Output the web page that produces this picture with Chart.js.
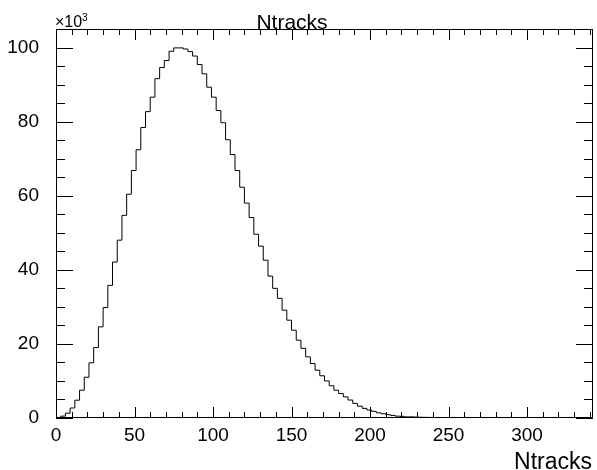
<!DOCTYPE html>
<html lang="en">
<head>
<meta charset="UTF-8">
<title>Ntracks</title>
<script src="https://cdn.jsdelivr.net/npm/chart.js"></script>
<style>
  body { margin: 0; background: #fff; }
  #wrap { width: 597px; height: 470px; }
</style>
</head>
<body>
<div id="wrap"><canvas id="hist" width="597" height="470"></canvas></div>
<script>
  // Ntracks histogram: bins of width 3 starting at 0, counts in units of 10^3
  const binWidth = 3;
  const binStart = 0;
  const counts = [
    0.1, 0.5, 1.3, 2.7, 4.8, 7.5, 11.0, 14.9, 19.0, 24.6,
    29.8, 35.8, 42.1, 48.0, 54.7, 60.4, 66.8, 72.4, 78.4, 82.7,
    86.6, 91.6, 94.6, 96.5, 99.0, 99.9, 99.9, 99.6, 98.9, 97.7,
    95.4, 92.9, 89.3, 86.6, 83.0, 79.7, 75.1, 71.1, 66.8, 62.3,
    58.0, 54.1, 49.6, 46.4, 42.6, 38.3, 35.0, 32.3, 29.1, 26.4,
    23.7, 21.0, 18.8, 16.5, 14.7, 12.9, 11.4, 10.0, 8.7, 7.5,
    6.6, 5.7, 4.85, 3.95, 3.2, 2.6, 2.15, 1.8, 1.4, 1.15,
    0.9, 0.7, 0.5, 0.45, 0.3, 0.3, 0.25, 0.2, 0.18, 0.15,
    0.1, 0.1, 0.08, 0.07, 0.06, 0.05, 0.04, 0.03
  ];
  const xTicks = [0, 50, 100, 150, 200, 250, 300];
  const yTicks = [0, 20, 40, 60, 80, 100];
  const xRange = [0, 342];
  const yRange = [0, 105];

  const FONT = '"Liberation Sans", Arial, sans-serif';

  // step points at the low edge of each bin, then close at the last edge
  const points = counts.map((c, i) => ({ x: binStart + i * binWidth, y: c }));
  points.push({ x: binStart + counts.length * binWidth, y: 0 });

  // ROOT-like frame, inward ticks on all four sides, titles
  const rootFrame = {
    id: 'rootFrame',
    afterDraw(chart) {
      const ctx = chart.ctx;
      const a = chart.chartArea;
      const xs = chart.scales.x, ys = chart.scales.y;
      ctx.save();
      ctx.strokeStyle = '#000';
      ctx.lineWidth = 1;
      ctx.beginPath();
      ctx.rect(Math.round(a.left) + 0.5, Math.round(a.top) + 0.5,
               Math.round(a.right - a.left) - 1, Math.round(a.bottom - a.top) - 1);
      ctx.stroke();

      ctx.beginPath();
      for (let v = yRange[0]; v <= yRange[1]; v += 5) {
        const py = Math.round(ys.getPixelForValue(v)) + 0.5;
        const len = v % 20 === 0 ? 17 : 9;
        ctx.moveTo(a.left, py); ctx.lineTo(a.left + len, py);
        ctx.moveTo(a.right, py); ctx.lineTo(a.right - len, py);
      }
      for (let v = 0; v <= xRange[1]; v += 10) {
        const px = Math.round(xs.getPixelForValue(v)) + 0.5;
        const len = v % 50 === 0 ? 11 : 6;
        ctx.moveTo(px, a.bottom); ctx.lineTo(px, a.bottom - len);
        ctx.moveTo(px, a.top); ctx.lineTo(px, a.top + len);
      }
      ctx.stroke();

      ctx.fillStyle = '#000';
      ctx.textBaseline = 'alphabetic';
      ctx.font = '21px ' + FONT;
      ctx.textAlign = 'center';
      ctx.fillText('Ntracks', 292, 29);

      ctx.font = '23px ' + FONT;
      ctx.textAlign = 'right';
      ctx.fillText('Ntracks', 592, 469);

      ctx.font = '16px ' + FONT;
      ctx.textAlign = 'left';
      ctx.fillText('\u00d710', 55, 27);
      ctx.font = '10px ' + FONT;
      ctx.fillText('3', 82, 21);
      ctx.restore();
    }
  };

  new Chart(document.getElementById('hist'), {
    type: 'line',
    data: {
      datasets: [{
        label: 'Ntracks',
        data: points,
        stepped: true,
        borderColor: '#000',
        borderWidth: 1,
        pointRadius: 0,
        fill: false,
        tension: 0
      }]
    },
    options: {
      responsive: false,
      animation: false,
      layout: { padding: { top: 29, right: 4, left: 0, bottom: 0 } },
      plugins: { legend: { display: false }, tooltip: { enabled: false }, title: { display: false } },
      scales: {
        x: {
          type: 'linear',
          min: xRange[0], max: xRange[1],
          grid: { display: false },
          border: { display: false },
          afterBuildTicks: s => { s.ticks = xTicks.map(v => ({ value: v })); },
          afterFit: s => { s.height = 52; },
          ticks: { color: '#000', font: { family: FONT, size: 19 }, padding: -2, maxRotation: 0, autoSkip: false }
        },
        y: {
          type: 'linear',
          min: yRange[0], max: yRange[1],
          grid: { display: false },
          border: { display: false },
          afterBuildTicks: s => { s.ticks = yTicks.map(v => ({ value: v })); },
          afterFit: s => { s.width = 56; },
          ticks: { color: '#000', font: { family: FONT, size: 19 }, padding: 9 }
        }
      }
    },
    plugins: [rootFrame]
  });
</script>
</body>
</html>
